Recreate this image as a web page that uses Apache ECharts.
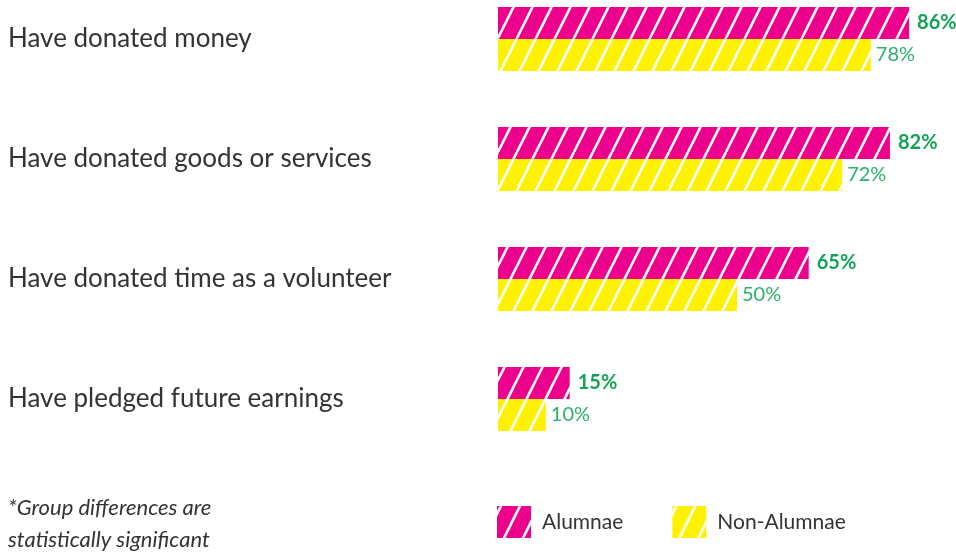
<!DOCTYPE html>
<html>
<head>
<meta charset="utf-8">
<script src="https://cdn.jsdelivr.net/npm/echarts@6/dist/echarts.min.js"></script>
<style>
html,body{margin:0;padding:0;background:#fff;}
#chart{width:956px;height:552px;}
</style>
</head>
<body>
<div id="chart"></div>
<script>
const categories = ['Have donated money', 'Have donated goods or services', 'Have donated time as a volunteer', 'Have pledged future earnings'];
const alumnae = [86, 82, 65, 15];
const nonAlumnae = [78, 72, 50, 10];
const seriesNames = ['Alumnae', 'Non-Alumnae'];
const footnote = ['*Group differences are', 'statistically significant'];

function stripe(bg) {
  const P = 19, H = 38;
  const c = document.createElement('canvas');
  c.width = P; c.height = H;
  const g = c.getContext('2d');
  g.fillStyle = bg;
  g.fillRect(0, 0, P, H);
  g.strokeStyle = '#ffffff';
  g.lineWidth = 2.6;
  for (let k = -2; k <= 2; k++) {
    g.beginPath();
    g.moveTo(4 + k * P, H);
    g.lineTo(4 + k * P + P, 0);
    g.stroke();
  }
  return { image: c, repeat: 'repeat' };
}
const pinkFill = stripe('#EC008C');
const yellowFill = stripe('#FFF200');

const chart = echarts.init(document.getElementById('chart'));
chart.setOption({
  animation: false,
  backgroundColor: '#ffffff',
  grid: { left: 498, top: -21, width: 478, height: 480, containLabel: false, outerBoundsMode: 'none' },
  xAxis: { type: 'value', min: 0, max: 100, show: false },
  yAxis: {
    type: 'category', data: categories, inverse: true,
    axisLine: { show: false }, axisTick: { show: false },
    axisLabel: { align: 'left', margin: 490, fontFamily: 'Lato', fontSize: 26, color: '#333333' }
  },
  legend: {
    left: 497, top: 506, padding: 0, icon: 'rect', itemWidth: 34, itemHeight: 32, itemGap: 49,
    textStyle: { fontFamily: 'Lato', fontSize: 21, color: '#333333', padding: [0, 0, 0, 6] },
    data: seriesNames
  },
  series: [
    {
      name: seriesNames[0], type: 'bar', data: alumnae, barWidth: 32, barGap: '0%',
      itemStyle: { color: pinkFill },
      label: { show: true, position: 'right', distance: 8, formatter: '{c}%', fontFamily: 'Lato', fontWeight: 'bold', fontSize: 20, color: '#13a356' }
    },
    {
      name: seriesNames[1], type: 'bar', data: nonAlumnae, barWidth: 32, barGap: '0%',
      itemStyle: { color: yellowFill },
      label: { show: true, position: 'right', distance: 5, formatter: '{c}%', fontFamily: 'Lato', fontSize: 20, color: '#2bb26a' }
    }
  ],
  graphic: [
    { type: 'text', left: 8, top: 497, style: { text: footnote[0], fontFamily: 'Lato', fontStyle: 'italic', fontSize: 22, fill: '#333333' } },
    { type: 'text', left: 8, top: 529, style: { text: footnote[1], fontFamily: 'Lato', fontStyle: 'italic', fontSize: 22, fill: '#333333' } }
  ]
});
</script>
</body>
</html>
